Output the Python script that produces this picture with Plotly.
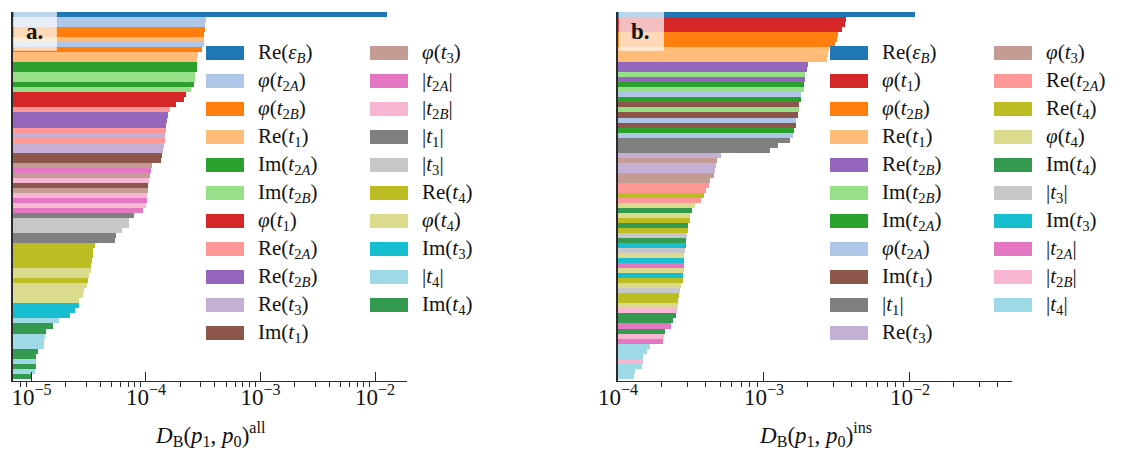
import plotly.graph_objects as go

# ---- parameter groups -------------------------------------------------------
label_html = {
    "re_eps": "Re(<i>ε</i><sub><i>B</i></sub>)",
    "phi_t2a": "<i>φ</i>(<i>t</i><sub>2<i>A</i></sub>)",
    "phi_t2b": "<i>φ</i>(<i>t</i><sub>2<i>B</i></sub>)",
    "re_t1": "Re(<i>t</i><sub>1</sub>)",
    "im_t2a": "Im(<i>t</i><sub>2<i>A</i></sub>)",
    "im_t2b": "Im(<i>t</i><sub>2<i>B</i></sub>)",
    "phi_t1": "<i>φ</i>(<i>t</i><sub>1</sub>)",
    "re_t2a": "Re(<i>t</i><sub>2<i>A</i></sub>)",
    "re_t2b": "Re(<i>t</i><sub>2<i>B</i></sub>)",
    "re_t3": "Re(<i>t</i><sub>3</sub>)",
    "im_t1": "Im(<i>t</i><sub>1</sub>)",
    "phi_t3": "<i>φ</i>(<i>t</i><sub>3</sub>)",
    "abs_t2a": "|<i>t</i><sub>2<i>A</i></sub>|",
    "abs_t2b": "|<i>t</i><sub>2<i>B</i></sub>|",
    "abs_t1": "|<i>t</i><sub>1</sub>|",
    "abs_t3": "|<i>t</i><sub>3</sub>|",
    "re_t4": "Re(<i>t</i><sub>4</sub>)",
    "phi_t4": "<i>φ</i>(<i>t</i><sub>4</sub>)",
    "im_t3": "Im(<i>t</i><sub>3</sub>)",
    "abs_t4": "|<i>t</i><sub>4</sub>|",
    "im_t4": "Im(<i>t</i><sub>4</sub>)",
}

colors = {
    "re_eps": "#1f77b4", "phi_t2a": "#aec7e8", "phi_t2b": "#ff7f0e",
    "re_t1": "#ffbb78", "im_t2a": "#2ca02c", "im_t2b": "#98df8a",
    "phi_t1": "#d62728", "re_t2a": "#ff9896", "re_t2b": "#9467bd",
    "re_t3": "#c5b0d5", "im_t1": "#8c564b", "phi_t3": "#c49c94",
    "abs_t2a": "#e377c2", "abs_t2b": "#f7b6d2", "abs_t1": "#7f7f7f",
    "abs_t3": "#c7c7c7", "re_t4": "#bcbd22", "phi_t4": "#dbdb8d",
    "im_t3": "#17becf", "abs_t4": "#9edae5", "im_t4": "#339a4f",
}

# ---- panel a: Bhattacharyya distance, all data (sorted, largest first) ------
vals_all = [
    1.26e-2, 3.34e-4, 3.30e-4, 3.28e-4, 3.21e-4, 3.21e-4, 3.21e-4, 3.08e-4,
    2.85e-4, 2.79e-4, 2.79e-4, 2.79e-4, 2.68e-4, 2.68e-4, 2.63e-4, 2.47e-4,
    2.24e-4, 2.15e-4, 1.83e-4, 1.62e-4, 1.56e-4, 1.53e-4, 1.50e-4, 1.50e-4,
    1.47e-4, 1.47e-4, 1.44e-4, 1.41e-4, 1.38e-4, 1.35e-4, 1.13e-4, 1.11e-4,
    1.08e-4, 1.06e-4, 1.04e-4, 1.04e-4, 1.02e-4, 1.02e-4, 1.00e-4, 9.4e-5,
    7.85e-5, 7.1e-5, 7.1e-5, 6.2e-5, 5.47e-5, 5.36e-5, 3.59e-5, 3.44e-5,
    3.44e-5, 3.38e-5, 3.31e-5, 3.31e-5, 3.18e-5, 3.11e-5, 3.05e-5, 2.87e-5,
    2.82e-5, 2.60e-5, 2.60e-5, 2.40e-5, 2.17e-5, 1.74e-5, 1.54e-5, 1.34e-5,
    1.31e-5, 1.29e-5, 1.29e-5, 1.14e-5, 1.09e-5, 1.09e-5, 1.09e-5, 1.07e-5,
    1.01e-5,
]
grp_all = [
    "re_eps", "phi_t2a", "phi_t2a", "phi_t2b", "phi_t2b", "re_t1", "phi_t2a", "phi_t2b",
    "re_t1", "re_t1", "im_t2a", "im_t2a", "im_t2b", "im_t2b", "im_t2a", "im_t2b",
    "phi_t1", "phi_t1", "phi_t1", "re_t2a", "re_t2b", "re_t2b", "re_t2b", "re_t2a",
    "re_t3", "re_t2a", "re_t3", "re_t3", "im_t1", "im_t1", "phi_t3", "abs_t2a",
    "phi_t3", "abs_t2b", "im_t1", "phi_t3", "abs_t2b", "abs_t2a", "abs_t2b", "abs_t2a",
    "abs_t1", "abs_t3", "abs_t3", "abs_t3", "abs_t1", "abs_t1", "re_t4", "re_t4",
    "re_t4", "re_t4", "re_t4", "phi_t4", "phi_t4", "re_t4", "phi_t4", "phi_t4",
    "phi_t4", "phi_t4", "im_t3", "im_t3", "im_t3", "abs_t4", "im_t4", "im_t4",
    "abs_t4", "abs_t4", "abs_t4", "im_t4", "im_t4", "abs_t4", "im_t4", "abs_t4",
    "im_t4",
]

# ---- panel b: Bhattacharyya distance, insulating data -----------------------
vals_ins = [
    1.08e-2, 3.65e-3, 3.59e-3, 3.42e-3, 3.22e-3, 3.14e-3, 3.08e-3, 2.80e-3,
    2.75e-3, 2.71e-3, 2.00e-3, 1.97e-3, 1.91e-3, 1.91e-3, 1.88e-3, 1.88e-3,
    1.79e-3, 1.79e-3, 1.74e-3, 1.74e-3, 1.71e-3, 1.66e-3, 1.66e-3, 1.60e-3,
    1.58e-3, 1.51e-3, 1.25e-3, 1.10e-3, 5.08e-4, 4.77e-4, 4.69e-4, 4.62e-4,
    4.55e-4, 4.27e-4, 4.20e-4, 4.01e-4, 3.88e-4, 3.70e-4, 3.37e-4, 3.21e-4,
    3.11e-4, 3.11e-4, 3.01e-4, 3.01e-4, 2.97e-4, 2.92e-4, 2.92e-4, 2.87e-4,
    2.83e-4, 2.83e-4, 2.83e-4, 2.83e-4, 2.79e-4, 2.79e-4, 2.70e-4, 2.66e-4,
    2.62e-4, 2.58e-4, 2.58e-4, 2.54e-4, 2.50e-4, 2.38e-4, 2.31e-4, 2.10e-4,
    2.07e-4, 2.03e-4, 1.66e-4, 1.58e-4, 1.48e-4, 1.48e-4, 1.46e-4, 1.31e-4,
    1.29e-4,
]
grp_ins = [
    "re_eps", "phi_t1", "phi_t1", "phi_t1", "phi_t2b", "phi_t2b", "phi_t2b", "re_t1",
    "re_t1", "re_t1", "re_t2b", "re_t2b", "im_t2b", "re_t2b", "im_t2a", "im_t2b",
    "phi_t2a", "im_t2a", "im_t1", "im_t2b", "im_t1", "phi_t2a", "im_t1", "im_t2a",
    "phi_t2a", "abs_t1", "abs_t1", "abs_t1", "re_t3", "phi_t3", "re_t3", "re_t3",
    "phi_t3", "phi_t3", "re_t2a", "re_t2a", "re_t4", "re_t2a", "phi_t4", "im_t4",
    "phi_t4", "re_t4", "im_t4", "re_t4", "abs_t3", "im_t4", "im_t3", "abs_t3",
    "phi_t4", "im_t3", "abs_t2a", "phi_t4", "im_t3", "re_t4", "phi_t4", "abs_t3",
    "re_t4", "re_t4", "phi_t4", "abs_t2b", "im_t4", "im_t4", "abs_t2a", "im_t4",
    "abs_t2b", "abs_t2a", "abs_t4", "abs_t4", "abs_t4", "abs_t2b", "abs_t4", "abs_t4",
    "abs_t4",
]

tick_vals = [1e-5, 1e-4, 1e-3, 1e-2]
tick_text = ["10<sup>−5</sup>", "10<sup>−4</sup>", "10<sup>−3</sup>", "10<sup>−2</sup>"]

# ---- layout geometry (pixels) ----------------------------------------------
W, H = 1121, 450
SERIF = "Liberation Serif, DejaVu Serif, serif"
INK = "#2b2b2b"


def fx(p):
    return p / W


def fy(p):
    return 1 - p / H


panels = [
    dict(vals=vals_all, grps=grp_all, xa="x", ya="y", x0=12.9, x1=407.2,
         xrange=[-5.162, -1.719], tag="a.", tagw=44,
         title="<i>D</i><sub>B</sub>(<i>p</i><sub>1</sub>, <i>p</i><sub>0</sub>)<sup>all</sup>",
         leg_x=206),
    dict(vals=vals_ins, grps=grp_ins, xa="x2", ya="y2", x0=618.0, x1=1012.0,
         xrange=[-4.0, -1.301], tag="b.", tagw=46,
         title="<i>D</i><sub>B</sub>(<i>p</i><sub>1</sub>, <i>p</i><sub>0</sub>)<sup>ins</sup>",
         leg_x=830),
]

PLOT_TOP, PLOT_BOTTOM = 12.0, 381.0

fig = go.Figure()
shapes, annotations = [], []

for k, p in enumerate(panels):
    n = len(p["vals"])
    order = []
    for g in p["grps"]:
        if g not in order:
            order.append(g)

    for g in order:
        idx = [i for i, key in enumerate(p["grps"]) if key == g]
        fig.add_trace(go.Bar(
            x=[p["vals"][i] for i in idx], y=idx, orientation="h",
            width=1.0, marker=dict(color=colors[g], line=dict(width=0)),
            xaxis=p["xa"], yaxis=p["ya"], showlegend=False, hoverinfo="x",
        ))

    minor_vals = [m * 10.0 ** d for d in range(-6, 0) for m in range(2, 10)]
    axis_suffix = "" if k == 0 else "2"
    fig.update_layout(**{
        "xaxis" + axis_suffix: dict(
            type="log", domain=[fx(p["x0"]), fx(p["x1"])], range=p["xrange"],
            anchor="y" + axis_suffix, automargin=False,
            showline=True, linecolor=INK, linewidth=1.4,
            showgrid=False, zeroline=False,
            ticks="inside", ticklen=9, tickwidth=1.4, tickcolor=INK,
            tickvals=tick_vals, ticktext=tick_text, ticklabelstandoff=-5,
            tickfont=dict(family=SERIF, size=23, color="#111"),
            minor=dict(tickvals=minor_vals, ticks="outside", ticklen=5,
                       tickwidth=1.1, tickcolor=INK, showgrid=False),
        ),
        "yaxis" + axis_suffix: dict(
            domain=[fy(PLOT_BOTTOM), fy(PLOT_TOP)], range=[n - 0.05, -0.5],
            anchor="x" + axis_suffix, automargin=False,
            showline=True, linecolor=INK, linewidth=1.6,
            showticklabels=False, ticks="", showgrid=False, zeroline=False,
        ),
    })

    # panel tag in a translucent box
    shapes.append(dict(type="rect", xref="paper", yref="paper", layer="above",
                       x0=fx(p["x0"] + 0.8), x1=fx(p["x0"] + p["tagw"]),
                       y0=fy(50.7), y1=fy(PLOT_TOP),
                       fillcolor="rgba(255,255,255,0.7)", line=dict(width=0)))
    annotations.append(dict(text="<b>" + p["tag"] + "</b>", xref="paper", yref="paper",
                            x=fx(p["x0"] + 22), y=fy(31), xanchor="center", yanchor="middle",
                            showarrow=False, font=dict(family=SERIF, size=23, color="#111")))

    # axis title
    annotations.append(dict(text=p["title"], xref="paper", yref="paper",
                            x=fx((p["x0"] + p["x1"]) / 2), y=fy(434),
                            xanchor="center", yanchor="middle", showarrow=False,
                            font=dict(family=SERIF, size=23, color="#111")))

    # two-column legend
    ncol1 = (len(order) + 1) // 2
    for j, g in enumerate(order):
        col, row = (0, j) if j < ncol1 else (1, j - ncol1)
        px0 = p["leg_x"] + 164 * col
        cy = 53 + 28 * row
        shapes.append(dict(type="rect", xref="paper", yref="paper", layer="above",
                           x0=fx(px0), x1=fx(px0 + 38), y0=fy(cy + 7), y1=fy(cy - 7),
                           fillcolor=colors[g], line=dict(width=0)))
        annotations.append(dict(text=label_html[g], xref="paper", yref="paper",
                                x=fx(px0 + 50), y=fy(cy), xanchor="left", yanchor="middle",
                                showarrow=False,
                                font=dict(family=SERIF, size=21, color="#111")))

fig.update_layout(
    template="none",
    width=W, height=H, margin=dict(l=0, r=0, t=0, b=0, autoexpand=False),
    paper_bgcolor="white", plot_bgcolor="white",
    bargap=0, barmode="overlay", showlegend=False,
    shapes=shapes, annotations=annotations,
)

fig.write_html("out.html")
